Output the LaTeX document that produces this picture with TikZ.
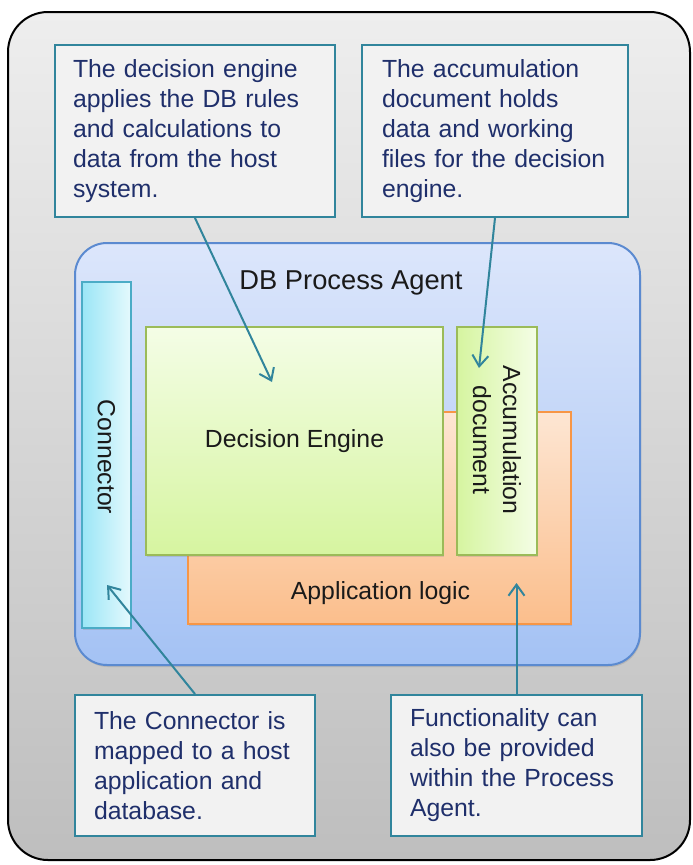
\documentclass[tikz,border=0pt]{standalone}
\usepackage{fontspec}
\setmainfont{Liberation Sans}
\usetikzlibrary{arrows.meta,shadows}
\definecolor{calloutfill}{HTML}{F2F2F2}
\definecolor{teal}{HTML}{31859C}
\definecolor{navy}{HTML}{1F2F6B}
\definecolor{agenttop}{HTML}{DCE6FB}
\definecolor{agentbot}{HTML}{A4C2F4}
\definecolor{agentline}{HTML}{5B8AD0}
\definecolor{connleft}{HTML}{9BE6F6}
\definecolor{connright}{HTML}{E4F9FD}
\definecolor{connline}{HTML}{4BACC6}
\definecolor{greenlight}{HTML}{F4FDE6}
\definecolor{greendark}{HTML}{D6F5A0}
\definecolor{greenline}{HTML}{9BBB59}
\definecolor{orangetop}{HTML}{FDE6D3}
\definecolor{orangebot}{HTML}{FBBE8C}
\definecolor{orangeline}{HTML}{F79646}
\definecolor{frametop}{HTML}{EEEEEE}
\definecolor{framebot}{HTML}{BEBEBE}
\definecolor{lbltext}{HTML}{1A1A1A}
\begin{document}
\begin{tikzpicture}[x=1pt,y=-1pt,
  boxbase/.style={rectangle, inner sep=0pt, line width=2pt},
  framebox/.style={boxbase, draw=black, rounded corners=40pt, top color=frametop, bottom color=framebot},
  agentbox/.style={boxbase, draw=agentline, rounded corners=32pt, top color=agenttop, bottom color=agentbot,
     drop shadow={opacity=0.25, shadow xshift=1pt, shadow yshift=-2pt}},
  connbox/.style={boxbase, draw=connline, left color=connleft, right color=connright,
     drop shadow={opacity=0.25, shadow xshift=1pt, shadow yshift=-2pt}},
  decbox/.style={boxbase, draw=greenline, top color=greenlight, bottom color=greendark,
     drop shadow={opacity=0.25, shadow xshift=1pt, shadow yshift=-2pt}},
  accbox/.style={boxbase, draw=greenline, left color=greendark, right color=greenlight,
     drop shadow={opacity=0.25, shadow xshift=1pt, shadow yshift=-2pt}},
  appbox/.style={boxbase, draw=orangeline, top color=orangetop, bottom color=orangebot,
     drop shadow={opacity=0.25, shadow xshift=1pt, shadow yshift=-2pt}},
  callout/.style={boxbase, draw=teal, fill=calloutfill, text=navy, align=left,
     font=\fontsize{24.8}{30}\selectfont},
  lbl/.style={text=lbltext, inner sep=0pt, font=\fontsize{24.8}{30}\selectfont},
  pointer/.style={draw=teal, line width=2pt, -{Straight Barb[length=11pt,width=16pt]}}
]
\useasboundingbox (0,0) rectangle (693,865);

% outer frame
\node[framebox, minimum width=682pt, minimum height=848pt] (frame) at (349,436) {};

% DB Process Agent container
\node[agentbox, minimum width=565pt, minimum height=422pt] (agent) at (357.5,454) {};
\node[lbl, font=\fontsize{27.3}{32}\selectfont] (title) at (351,283) {DB Process Agent};

% connector bar
\node[connbox, minimum width=49pt, minimum height=346pt] (conn) at (106.5,455) {};
\node[lbl, rotate=-90] (connlbl) at (106.5,457) {Connector};

% application logic
\node[appbox, minimum width=383pt, minimum height=212pt] (app) at (379.5,518) {};
\node[lbl] (applbl) at (380.5,593) {Application logic};

% decision engine
\node[decbox, minimum width=297pt, minimum height=228pt] (dec) at (294.5,441) {};
\node[lbl] (declbl) at (294.5,441) {Decision Engine};

% accumulation document
\node[accbox, minimum width=80pt, minimum height=228pt] (acc) at (497,441) {};
\node[lbl, rotate=-90, align=center] (acclbl) at (497,440) {Accumulation\\document};

% callouts
\node[callout, minimum width=280pt, minimum height=172pt, text width=244pt] (c1) at (195,131)
  {The decision engine\\applies the DB rules\\and calculations to\\data from the host\\system.};
\node[callout, minimum width=266pt, minimum height=172pt, text width=226pt] (c2) at (495,131)
  {The accumulation\\document holds\\data and working\\files for the decision\\engine.};
\node[callout, minimum width=240pt, minimum height=141pt, text width=202pt] (c3) at (195,765.5)
  {The Connector is\\mapped to a host\\application and\\database.};
\node[callout, minimum width=251pt, minimum height=141pt, text width=213pt] (c4) at (516.5,765.5)
  {Functionality can\\also be provided\\within the Process\\Agent.};

% pointer targets
\coordinate (t1) at (272,382);
\coordinate (t2) at (479,368);
\coordinate (t3) at (107,585);
\coordinate (t4) at (516.5,583);

\draw[pointer] (c1.south) -- (t1);
\draw[pointer] (c2.south) -- (t2);
\draw[pointer] (c3.north) -- (t3);
\draw[pointer] (c4.north) -- (t4);
\end{tikzpicture}
\end{document}
